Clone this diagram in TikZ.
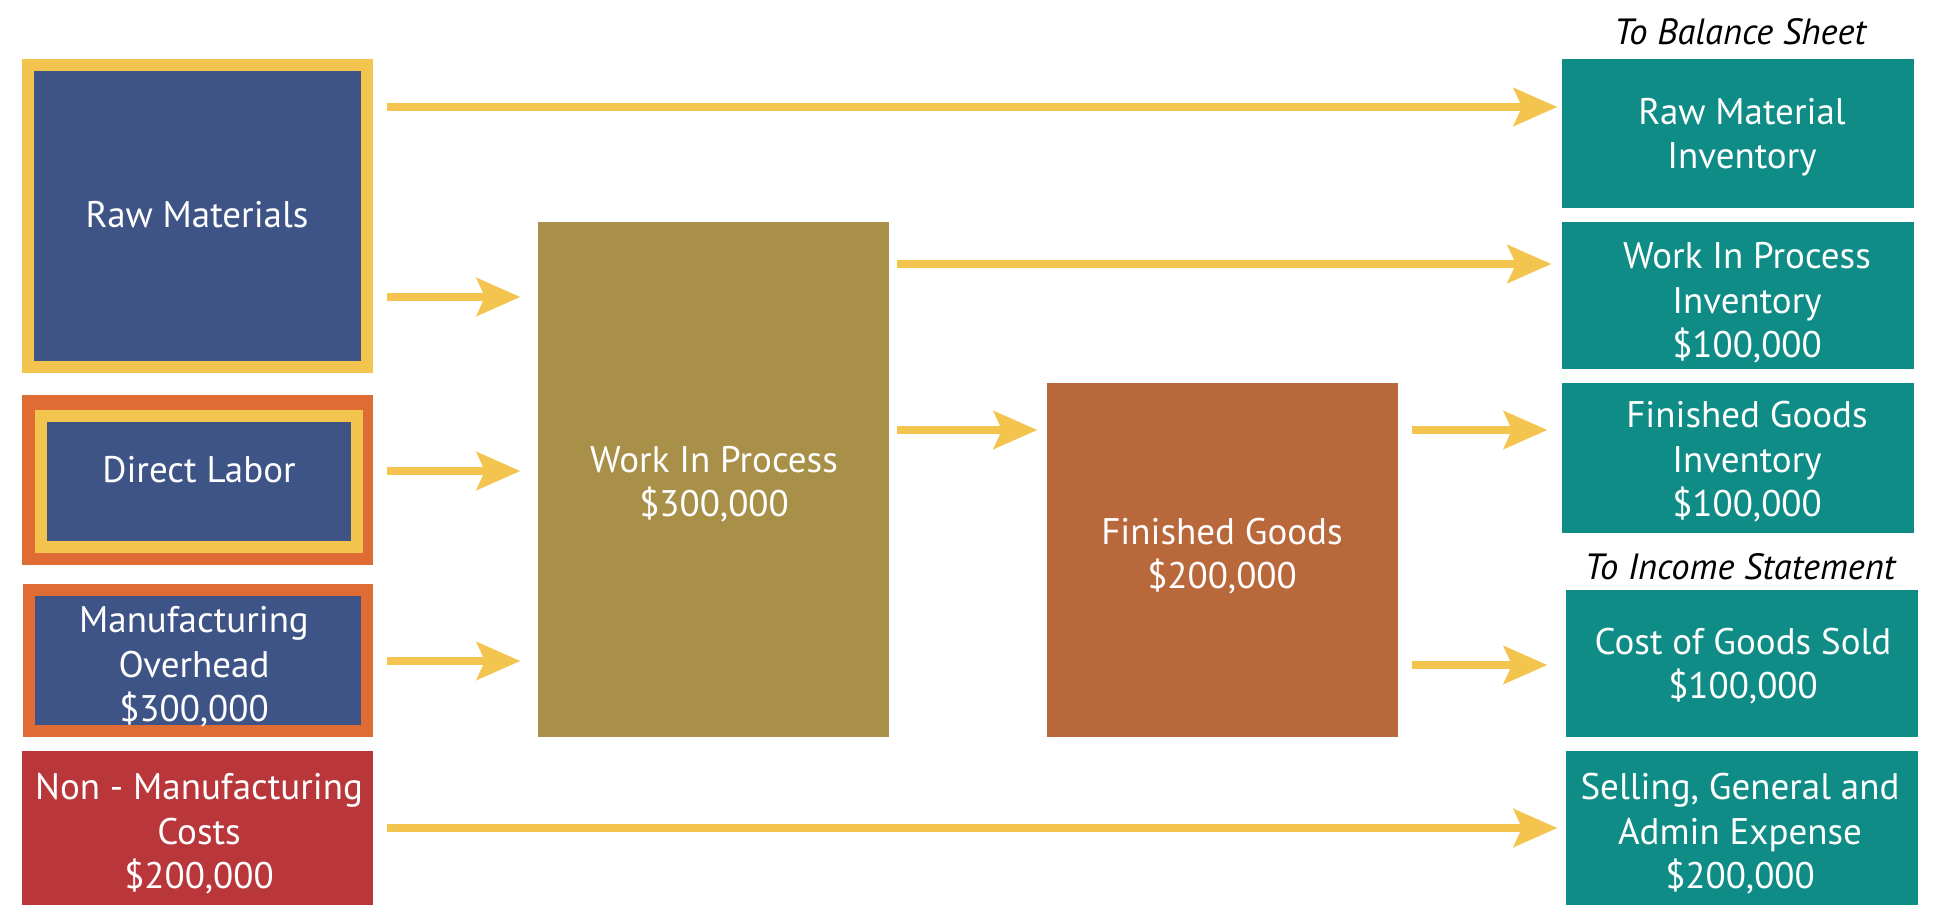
\documentclass[tikz,border=0pt]{standalone}
\usepackage{fontspec}
\setmainfont{PT Sans}
\usetikzlibrary{arrows.meta,calc}
\definecolor{yel}{HTML}{F3C54F}
\definecolor{navy}{HTML}{3E5487}
\definecolor{orng}{HTML}{E06C35}
\definecolor{redc}{HTML}{B9363A}
\definecolor{olivec}{HTML}{A89048}
\definecolor{brwn}{HTML}{B9683B}
\definecolor{tealc}{HTML}{108C87}
\begin{document}
\begin{tikzpicture}[x=1pt,y=-1pt,
  every node/.style={inner sep=0pt,outer sep=0pt},
  lbl/.style={text=white,align=center,font=\fontsize{37}{44.5}\selectfont},
  hdr/.style={text=black,font=\itshape\fontsize{36.5}{42}\selectfont},
  arr/.style={draw=yel,line width=8pt,-{Stealth[length=44pt,width=39pt,inset=9pt,line width=0.1pt]}}]
\useasboundingbox (0,0) rectangle (1936,921);
% left boxes
\node[fill=navy,draw=yel,line width=12pt,minimum width=339pt,minimum height=302pt] (rm) at (197.5,216) {};
\node[fill=orng,minimum width=351pt,minimum height=170pt] (dlo) at (197.5,480) {};
\node[fill=navy,draw=yel,line width=12pt,minimum width=316pt,minimum height=131pt] (dl) at (199,481.5) {};
\node[fill=navy,draw=orng,line width=12pt,minimum width=338.5pt,minimum height=141pt] (moh) at (197.75,660.5) {};
\node[fill=redc,minimum width=351pt,minimum height=154pt] (nmc) at (197.5,828) {};
% middle boxes
\node[fill=olivec,minimum width=351pt,minimum height=515pt] (wip) at (713.5,479.5) {};
\node[fill=brwn,minimum width=351pt,minimum height=354pt] (fg) at (1222.5,560) {};
% right boxes
\node[fill=tealc,minimum width=352pt,minimum height=149pt] (rmi) at (1738,133.5) {};
\node[fill=tealc,minimum width=352pt,minimum height=147pt] (wipi) at (1738,295.5) {};
\node[fill=tealc,minimum width=352pt,minimum height=150pt] (fgi) at (1738,458) {};
\node[fill=tealc,minimum width=352pt,minimum height=147pt] (cogs) at (1742,663.5) {};
\node[fill=tealc,minimum width=352pt,minimum height=154pt] (sga) at (1742,828) {};
% labels
\node[lbl] (trm) at (197,215) {Raw Materials};
\node[lbl] (tdl) at (199,470) {Direct Labor};
\node[lbl] (tmoh) at (194,667) {Manufacturing\\Overhead\\\$300,000};
\node[lbl] (tnmc) at (199,834) {Non - Manufacturing\\Costs\\\$200,000};
\node[lbl] (twip) at (714,484) {Work In Process\\\$300,000};
\node[lbl] (tfg) at (1222,556) {Finished Goods\\\$200,000};
\node[lbl] (trmi) at (1742,137) {Raw Material\\Inventory};
\node[lbl] (twipi) at (1747,303) {Work In Process\\Inventory\\\$100,000};
\node[lbl] (tfgi) at (1747,462) {Finished Goods\\Inventory\\\$100,000};
\node[lbl] (tcogs) at (1743,666) {Cost of Goods Sold\\\$100,000};
\node[lbl] (tsga) at (1740,834) {Selling, General and\\Admin Expense\\\$200,000};
\node[hdr] (hbs) at (1740,32) {To Balance Sheet};
\node[hdr] (his) at (1740,567) {To Income Statement};
% arrows
\draw[arr] ($(rm.east |- 0,107)+(20,0)$) -- ($(rmi.west |- 0,107)+(-5,0)$);
\draw[arr] ($(rm.east |- 0,297)+(20,0)$) -- ($(wip.west |- 0,297)+(-18,0)$);
\draw[arr] ($(dlo.east |- 0,471)+(14,0)$) -- ($(wip.west |- 0,471)+(-18,0)$);
\draw[arr] ($(moh.east |- 0,661)+(20,0)$) -- ($(wip.west |- 0,661)+(-18,0)$);
\draw[arr] ($(nmc.east |- 0,828)+(14,0)$) -- ($(sga.west |- 0,828)+(-9,0)$);
\draw[arr] ($(wip.east |- 0,264)+(8,0)$) -- ($(wipi.west |- 0,264)+(-11,0)$);
\draw[arr] ($(wip.east |- 0,430)+(8,0)$) -- ($(fg.west |- 0,430)+(-10,0)$);
\draw[arr] ($(fg.east |- 0,430)+(14,0)$) -- ($(fgi.west |- 0,430)+(-15,0)$);
\draw[arr] ($(fg.east |- 0,665)+(14,0)$) -- ($(cogs.west |- 0,665)+(-19,0)$);
\end{tikzpicture}
\end{document}
